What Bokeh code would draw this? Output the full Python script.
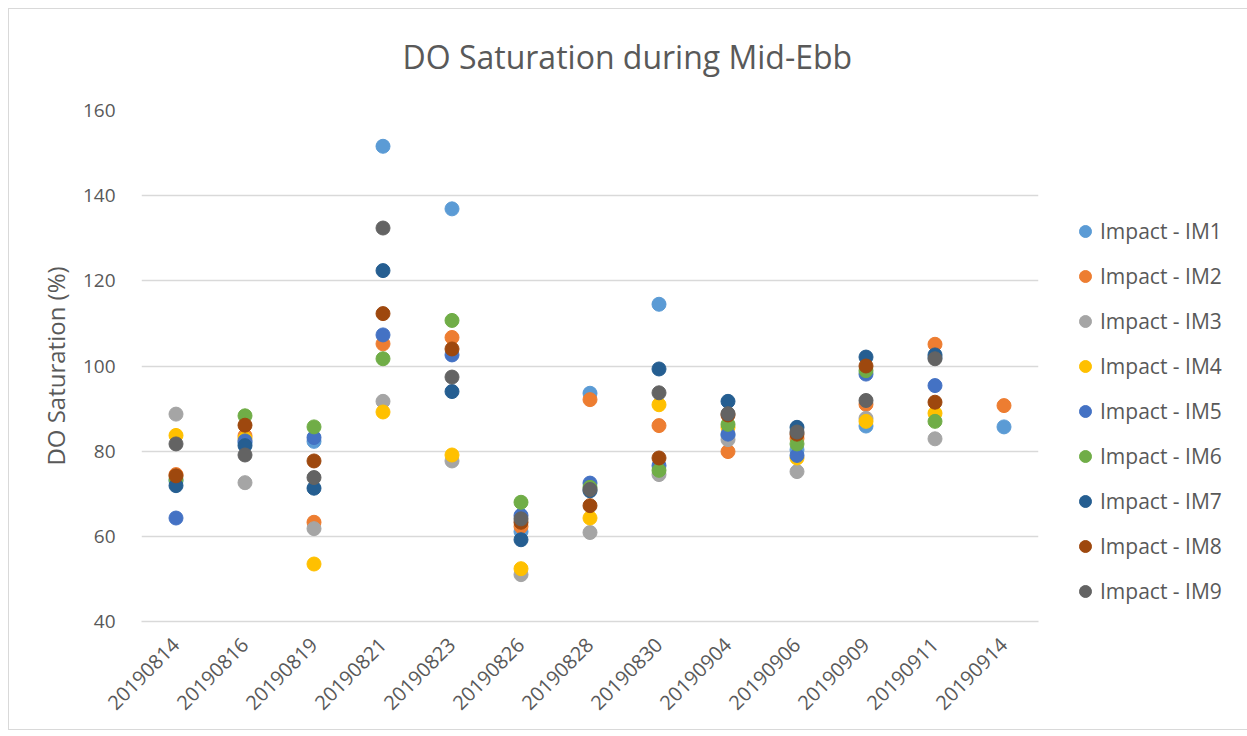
import math
from bokeh.plotting import figure
from bokeh.models import ColumnDataSource, Legend, LegendItem, FactorRange, Title
from bokeh.embed import file_html
from bokeh.resources import INLINE

dates = ["20190814", "20190816", "20190819", "20190821", "20190823", "20190826",
         "20190828", "20190830", "20190904", "20190906", "20190909", "20190911", "20190914"]
nan = float("nan")
im1 = [73.0, 82.0, 82.3, 151.6, 136.9, 61.1, 93.6, 114.5, 83.7, 80.3, 85.9, 102.0, 85.7]
im2 = [74.5, 83.6, 63.3, 105.2, 106.7, 62.3, 92.1, 86.0, 79.9, 83.0, 91.0, 105.1, 90.7]
im3 = [88.7, 72.6, 61.8, 91.7, 77.7, 51.0, 60.9, 74.5, 82.7, 75.2, 87.7, 82.9, nan]
im4 = [83.7, 83.0, 53.5, 89.2, 79.1, 52.4, 64.3, 90.9, 85.6, 78.4, 87.0, 88.9, nan]
im5 = [64.3, 82.4, 83.2, 107.3, 102.6, 64.9, 72.5, 76.6, 84.0, 79.0, 98.1, 95.4, nan]
im6 = [73.3, 88.3, 85.7, 101.7, 110.7, 68.0, 71.5, 75.5, 86.3, 81.7, 98.9, 87.0, nan]
im7 = [71.9, 81.3, 71.3, 122.4, 94.0, 59.2, 70.7, 99.3, 91.7, 85.6, 102.1, 102.6, nan]
im8 = [74.2, 86.1, 77.7, 112.3, 104.0, 63.3, 67.2, 78.4, 88.5, 84.0, 100.0, 91.5, nan]
im9 = [81.7, 79.1, 73.8, 132.4, 97.4, 64.1, 71.0, 93.7, 88.8, 84.5, 91.9, 101.7, nan]

series_names = ["Impact - IM1", "Impact - IM2", "Impact - IM3", "Impact - IM4", "Impact - IM5",
                "Impact - IM6", "Impact - IM7", "Impact - IM8", "Impact - IM9"]
series_values = [im1, im2, im3, im4, im5, im6, im7, im8, im9]
colors = ["#5B9BD5", "#ED7D31", "#A5A5A5", "#FFC000", "#4472C4",
          "#70AD47", "#255E91", "#9E480E", "#636363"]

FONT = "Open Sans"
TXT = "#595959"

p = figure(frame_width=897, frame_height=511, x_range=FactorRange(*dates, range_padding=0),
           y_range=(40, 160), output_backend="svg", toolbar_location=None,
           min_border_left=132, min_border_right=202, min_border_top=101, min_border_bottom=108)
p.margin = (8, 0, 0, 8)
p.styles = {"border": "1px solid #D9D9D9"}
p.outline_line_color = None

p.title.text = "DO Saturation during Mid-Ebb"
p.title.text_font = FONT
p.title.text_font_size = "32px"
p.title.text_font_style = "normal"
p.title.text_color = TXT
p.title.align = "left"
p.title.offset = 261

# blank spacer between the title and the plot area
p.add_layout(Title(text=" ", text_font_size="14px"), "above")

p.xgrid.grid_line_color = None
p.ygrid.grid_line_color = "#D9D9D9"
p.ygrid.grid_line_width = 1.5
p.yaxis.ticker = [40, 60, 80, 100, 120, 140, 160]

for ax in (p.xaxis, p.yaxis):
    ax.major_tick_line_color = None
    ax.minor_tick_line_color = None
    ax.major_label_text_font = FONT
    ax.major_label_text_font_size = "19px"
    ax.major_label_text_color = TXT
    ax.axis_label_text_font = FONT
    ax.axis_label_text_color = TXT
p.yaxis.axis_line_color = None
p.xaxis.axis_line_color = "#D9D9D9"
p.xaxis.axis_line_width = 1.5
p.xaxis.major_label_orientation = math.pi / 4
p.xaxis.major_label_standoff = 14
p.xaxis.major_label_text_font_size = "20px"
p.yaxis.axis_label = "DO Saturation (%)"
p.yaxis.axis_label_text_font_size = "24px"
p.yaxis.axis_label_text_font_style = "normal"
p.yaxis.axis_label_standoff = 8
p.yaxis.major_label_standoff = 20

items = []
for name, vals, c in zip(series_names, series_values, colors):
    src = ColumnDataSource(dict(x=dates, y=vals))
    r = p.scatter("x", "y", source=src, size=14, fill_color=c, line_color=c)
    items.append(LegendItem(label=name, renderers=[r]))

legend = Legend(items=items, location=(32, 15), orientation="vertical",
                label_text_font=FONT, label_text_font_size="21px", label_text_color=TXT,
                glyph_width=30, glyph_height=30, label_height=30, spacing=15,
                label_standoff=0, padding=0, margin=0,
                border_line_color=None, background_fill_alpha=0)
p.add_layout(legend, "right")

open("out.html", "w").write(file_html(p, INLINE))
